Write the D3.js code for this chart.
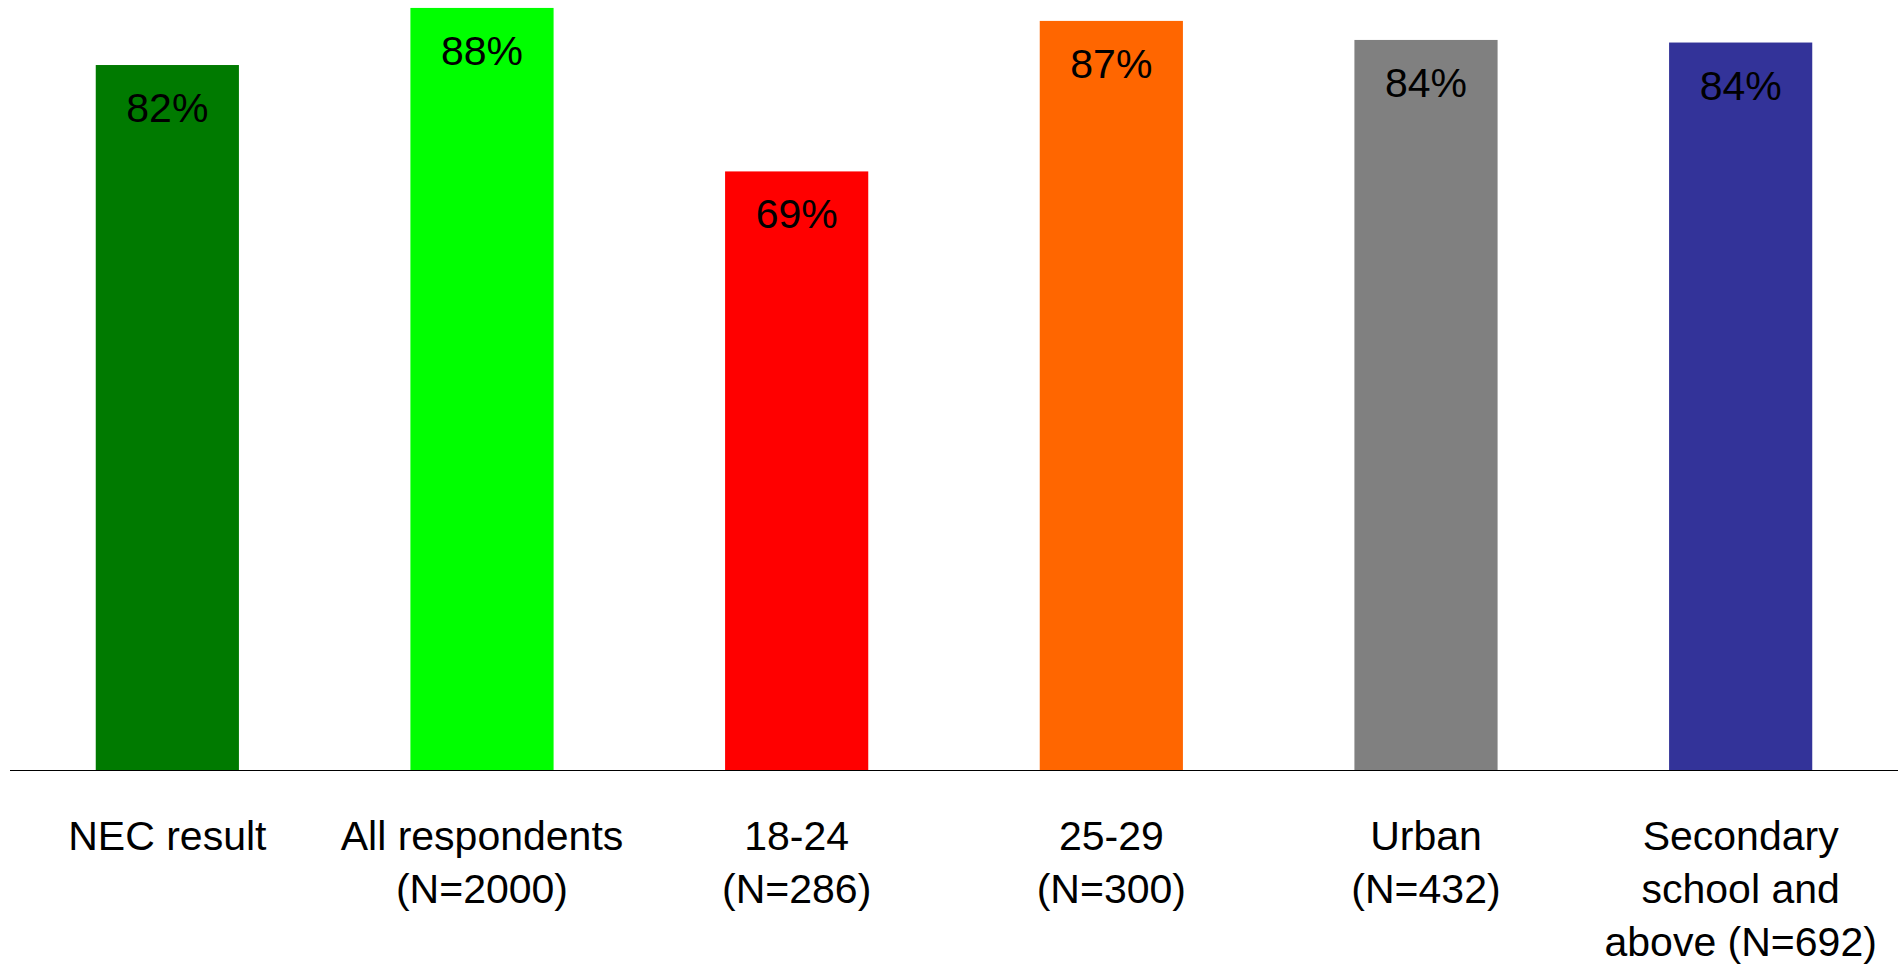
<!DOCTYPE html>
<html>
<head>
<meta charset="utf-8">
<script src="https://cdn.jsdelivr.net/npm/d3@7"></script>
<style>
  html, body { margin: 0; padding: 0; background: #ffffff; }
  svg { display: block; }
  text { font-family: "Liberation Sans", Arial, Helvetica, sans-serif; fill: #000; }
</style>
</head>
<body>
<svg id="chart" width="1902" height="966"></svg>
<script>
// ---- data ----
const categories = [
  ["NEC result"],
  ["All respondents", "(N=2000)"],
  ["18-24", "(N=286)"],
  ["25-29", "(N=300)"],
  ["Urban", "(N=432)"],
  ["Secondary", "school and", "above (N=692)"]
];
const values = [81.5, 88.1, 69.2, 86.6, 84.4, 84.1];
const valueLabels = ["82%", "88%", "69%", "87%", "84%", "84%"];
const barColors = ["#007a00", "#00ff00", "#ff0000", "#ff6600", "#808080", "#333399"];

// ---- layout ----
const W = 1902, H = 966;
const axisY = 770, axisLeft = 10, axisRight = 1898;
const svg = d3.select("#chart");

const ids = categories.map((c, i) => i);
const x = d3.scaleBand()
  .domain(ids)
  .range([axisLeft, axisRight])
  .paddingInner(0.545)
  .paddingOuter(0.2725);

const y = d3.scaleLinear()
  .domain([0, 100])
  .range([axisY, axisY - 865]);

// bars
svg.append("g").selectAll("rect")
  .data(values)
  .join("rect")
  .attr("x", (d, i) => x(i))
  .attr("width", x.bandwidth())
  .attr("y", d => y(d))
  .attr("height", d => y(0) - y(d))
  .attr("fill", (d, i) => barColors[i]);

// value labels
svg.append("g").selectAll("text")
  .data(values)
  .join("text")
  .attr("x", (d, i) => x(i) + x.bandwidth() / 2)
  .attr("y", d => y(d) + 57)
  .attr("text-anchor", "middle")
  .attr("font-size", 41)
  .text((d, i) => valueLabels[i]);

// x axis (baseline only)
const xAxis = d3.axisBottom(x).tickSize(0).tickFormat(() => "");
const axisG = svg.append("g")
  .attr("transform", `translate(0,${axisY})`)
  .call(xAxis);
axisG.select(".domain")
  .attr("d", `M${axisLeft},0.5H${axisRight}`)
  .attr("stroke", "#000")
  .attr("stroke-width", 1.2);

// category labels
const labG = svg.append("g");
categories.forEach((lines, i) => {
  const t = labG.append("text")
    .attr("x", x(i) + x.bandwidth() / 2)
    .attr("y", 850)
    .attr("text-anchor", "middle")
    .attr("font-size", 41);
  lines.forEach((ln, j) => {
    t.append("tspan")
      .attr("x", x(i) + x.bandwidth() / 2)
      .attr("dy", j === 0 ? 0 : 53)
      .text(ln);
  });
});
</script>
</body>
</html>
